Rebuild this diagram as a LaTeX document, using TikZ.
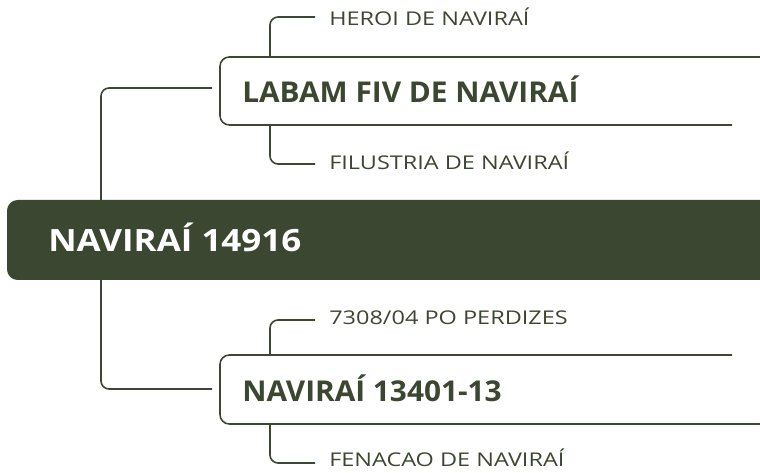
\documentclass[tikz,border=0pt]{standalone}
\usepackage{fontspec}
\setmainfont{Open Sans}
\newfontfamily\mainfont[FakeStretch=1.14]{Open Sans}
\newfontfamily\boxfont[FakeStretch=1.04]{Open Sans}
\newfontfamily\leaffont[FakeStretch=1.24]{Open Sans}
\definecolor{olive}{HTML}{3B4731}
\begin{document}
\begin{tikzpicture}[x=0.75pt,y=-0.75pt,
  conn/.style={draw=olive,line width=1.2pt,rounded corners=6pt},
  boxline/.style={draw=olive,line width=1.2pt,rounded corners=7pt},
  bigtxt/.style={anchor=base west,inner sep=0pt,text=white,font=\mainfont\fontsize{23}{28}\selectfont\bfseries},
  boxtxt/.style={anchor=base west,inner sep=0pt,text=olive,font=\boxfont\fontsize{21.5}{26}\selectfont\bfseries},
  leaftxt/.style={anchor=base west,inner sep=0pt,text=olive,font=\leaffont\fontsize{14.2}{17}\selectfont}]
\useasboundingbox (0,0) rectangle (760,473);
\clip (0,0) rectangle (760,473);
% main box
\fill[olive,rounded corners=8pt] (7,200) rectangle (800,280);
\node[bigtxt] (main) at (48,252) {NAVIRAÍ 14916};
% upper box
\draw[boxline] (800,57) -- (220,57) -- (220,125) -- (732,125);
\node[boxtxt] (b1) at (242,103) {LABAM FIV DE NAVIRAÍ};
% lower box
\draw[boxline] (732,355) -- (220,355) -- (220,424) -- (800,424);
\node[boxtxt] (b2) at (242,402) {NAVIRAÍ 13401-13};
% leaves
\node[leaftxt] (l1) at (329,26) {HEROI DE NAVIRAÍ};
\node[leaftxt] (l2) at (329,170) {FILUSTRIA DE NAVIRAÍ};
\node[leaftxt] (l3) at (329,325) {7308/04 PO PERDIZES};
\node[leaftxt] (l4) at (329,466) {FENACAO DE NAVIRAÍ};
% connector coordinates
\coordinate (mt) at (101,200);
\coordinate (mb) at (101,280);
\coordinate (b1in) at (212,88);
\coordinate (b2in) at (212,389);
\coordinate (b1t) at (270,57);
\coordinate (b1b) at (270,125);
\coordinate (b2t) at (270,355);
\coordinate (b2b) at (270,424);
\coordinate (l1in) at (315,17);
\coordinate (l2in) at (315,164);
\coordinate (l3in) at (315,320);
\coordinate (l4in) at (315,463);
\draw[conn] (mt) |- (b1in);
\draw[conn] (mb) |- (b2in);
\draw[conn] (b1t) |- (l1in);
\draw[conn] (b1b) |- (l2in);
\draw[conn] (b2t) |- (l3in);
\draw[conn] (b2b) |- (l4in);
\end{tikzpicture}
\end{document}
